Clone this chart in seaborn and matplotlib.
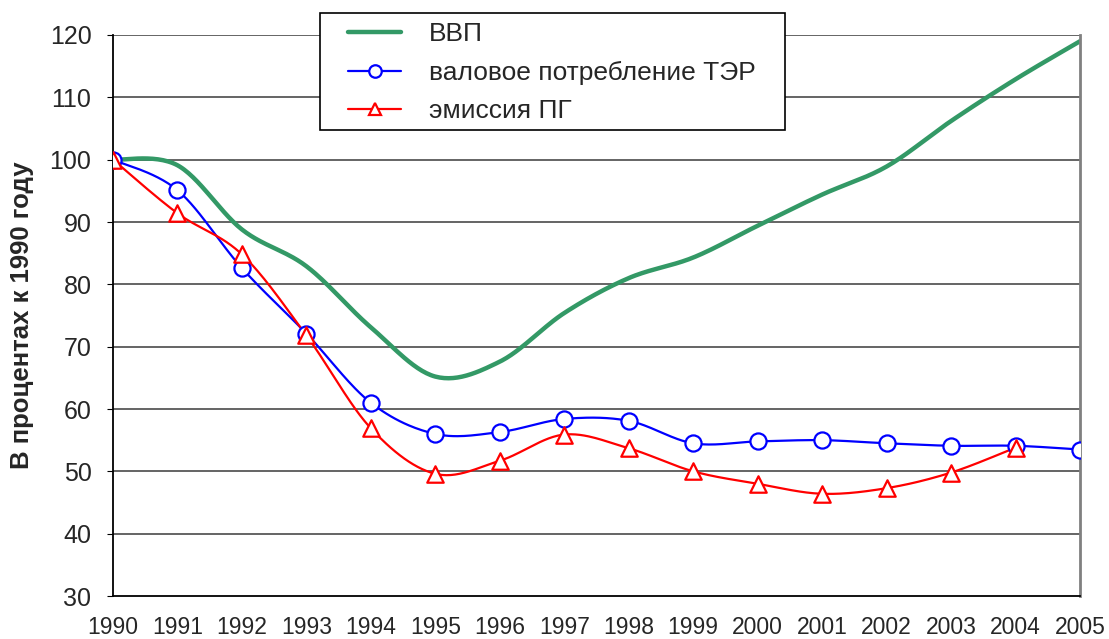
import numpy as np
import pandas as pd
import matplotlib
matplotlib.use("Agg")
import matplotlib.pyplot as plt
import seaborn as sns
from matplotlib.lines import Line2D
from matplotlib.patches import Rectangle

years = list(range(1990, 2006))
gdp = [100, 99.1, 88.8, 82.9, 73.1, 65.2, 67.6, 75.4, 81.0, 84.3, 89.4, 94.4, 98.9, 106.2, 112.9, 119.0]
energy = [100, 95.1, 82.6, 72.1, 61.0, 56.0, 56.3, 58.4, 58.1, 54.5, 54.8, 55.0, 54.5, 54.1, 54.1, 53.5]
emis_years = list(range(1990, 2005))
emission = [100, 91.4, 84.8, 71.8, 56.9, 49.6, 51.7, 55.9, 53.7, 50.0, 48.0, 46.4, 47.3, 49.8, 53.8]

labels = ["ВВП", "валовое потребление ТЭР", "эмиссия ПГ"]
c_gdp, c_en, c_em = "#339966", "#0000FF", "#FF0000"
W, H = 1109, 639


def smooth(xs, ys, n=30):
    # excel-like smoothed line (bezier through points)
    p = np.column_stack([xs, ys]).astype(float)
    p = np.vstack([p[0], p, p[-1]])
    out = []
    for i in range(1, len(p) - 2):
        p0, p3 = p[i], p[i + 1]
        c1 = p0 + (p[i + 1] - p[i - 1]) / 6
        c2 = p3 - (p[i + 2] - p[i]) / 6
        t = np.linspace(0, 1, n)[:, None]
        seg = (1 - t) ** 3 * p0 + 3 * (1 - t) ** 2 * t * c1 + 3 * (1 - t) * t ** 2 * c2 + t ** 3 * p3
        out.append(seg if i == 1 else seg[1:])
    s = np.vstack(out)
    return pd.DataFrame({"x": s[:, 0], "y": s[:, 1]})


sns.set_style("white")
plt.rcParams["font.family"] = ["Liberation Sans", "DejaVu Sans"]

fig = plt.figure(figsize=(W / 100, H / 100), dpi=100)
ax = fig.add_axes([113 / W, 1 - 596 / H, 967 / W, 561 / H])

for yv in range(40, 130, 10):
    ax.axhline(yv, color="#3a3a3a", lw=1.1, zorder=0)

g = smooth(years, gdp)
sns.lineplot(data=g, x="x", y="y", color=c_gdp, lw=3.2, sort=False, estimator=None, ax=ax)
e = smooth(years, energy)
sns.lineplot(data=e, x="x", y="y", color=c_en, lw=1.6, sort=False, estimator=None, ax=ax)
m = smooth(emis_years, emission)
sns.lineplot(data=m, x="x", y="y", color=c_em, lw=1.6, sort=False, estimator=None, ax=ax)

sns.scatterplot(x=years, y=energy, marker="o", s=135, facecolor="white",
                edgecolor=c_en, linewidth=1.6, zorder=4, ax=ax)
sns.scatterplot(x=emis_years, y=emission, marker="^", s=140, facecolor="white",
                edgecolor=c_em, linewidth=1.6, zorder=5, ax=ax)

ax.set_xlim(1990, 2005)
ax.set_ylim(30, 120)
ax.set_xticks(years)
ax.set_xticklabels([str(y) for y in years])
ax.set_yticks(range(30, 130, 10))
ax.tick_params(axis="x", direction="in", length=5, pad=14.5, labelsize=16.5, color="black")
ax.tick_params(axis="y", direction="out", length=4.5, pad=11, labelsize=18, color="black", left=True)
ax.set_xlabel("")
ax.set_ylabel("В процентах к 1990 году", fontsize=18.5, fontweight="bold")
ax.yaxis.set_label_coords(-79 / 967, 0.5)

for side in ["left", "bottom"]:
    ax.spines[side].set_color("black")
    ax.spines[side].set_linewidth(1.3)
ax.spines["right"].set_color("#808080")
ax.spines["right"].set_linewidth(2)
ax.spines["top"].set_visible(False)

# legend box
fig.patches.append(Rectangle((320 / W, 1 - 130 / H), 465 / W, 117 / H, transform=fig.transFigure,
                             facecolor="white", edgecolor="black", lw=1.2, zorder=10))
handles = [
    Line2D([], [], color=c_gdp, lw=3.2),
    Line2D([], [], color=c_en, lw=1.6, marker="o", markersize=9, markerfacecolor="white",
           markeredgecolor=c_en, markeredgewidth=1.6),
    Line2D([], [], color=c_em, lw=1.6, marker="^", markersize=9, markerfacecolor="white",
           markeredgecolor=c_em, markeredgewidth=1.6),
]
leg = fig.legend(handles, labels, loc="upper left", bbox_to_anchor=(343 / W, 1 - 17 / H),
                 fontsize=19, frameon=False, handlelength=2.0,
                 borderpad=0.2, labelspacing=0.55, handletextpad=1.05, borderaxespad=0)
leg.set_zorder(11)

fig.savefig("out.png", dpi=100)
